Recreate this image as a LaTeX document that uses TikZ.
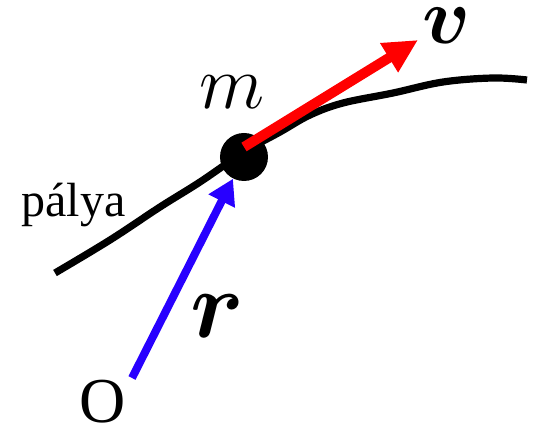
\RequirePackage{fix-cm}
\documentclass[tikz,border=0pt]{standalone}
\usepackage{fontspec}
\setmainfont{Liberation Serif}
\usepackage{amsmath}
\usepackage{bm}
\usepackage{tikz}
\usetikzlibrary{arrows.meta, positioning}
\definecolor{vec_blue_col}{RGB}{40,0,255}
\tikzset{
  palya_line/.style={line width=3.6pt, black},
  mass_dot/.style={circle, fill=black, inner sep=0pt, minimum size=24pt},
  vec_red/.style={-{Triangle[length=17pt, width=16pt]}, line width=5pt, red},
  vec_blue/.style={-{Triangle[length=12.5pt, width=14pt]}, line width=4pt, vec_blue_col},
  text_label/.style={inner sep=0pt},
}

\begin{document}
\begin{tikzpicture}[x=0.5pt, y=-0.5pt]
  \useasboundingbox (0,0) rectangle (538,427);

  % --- 1. Trajectory ---
  \draw[palya_line] plot[smooth, tension=0.6] coordinates {
    (55,273) (110,240) (160,207) (200,182) (244,152) (280,132) (310,115)
    (343,103) (393,93) (443,82) (493,78) (527,80)};

  % --- 2. Mass point and origin ---
  \node[mass_dot] (dot) at (244,157) {};
  \coordinate (origin) at (132,378);
  \coordinate (vtip) at (418,40);

  % --- 3. Vectors ---
  \draw[vec_red] ([yshift=5pt]dot.center) -- (vtip);
  \draw[vec_blue] (origin) -- (dot);

  % --- 4. Labels ---
  \node[text_label, font=\fontsize{38}{40}\selectfont] (mlabel) at (232,92) {$m$};
  \node[text_label, font=\fontsize{40}{42}\selectfont] (vlabel) at (447,26) {$\bm{v}$};
  \node[text_label, font=\fontsize{48}{50}\selectfont] (rlabel) at (217,316) {$\bm{r}$};
  \node[text_label, font=\fontsize{24}{26}\selectfont, anchor=base west] (palya) at (21,217) {pálya};
  \node[text_label, font=\fontsize{32}{34}\selectfont] (olabel) at (103,402) {O};
\end{tikzpicture}
\end{document}
